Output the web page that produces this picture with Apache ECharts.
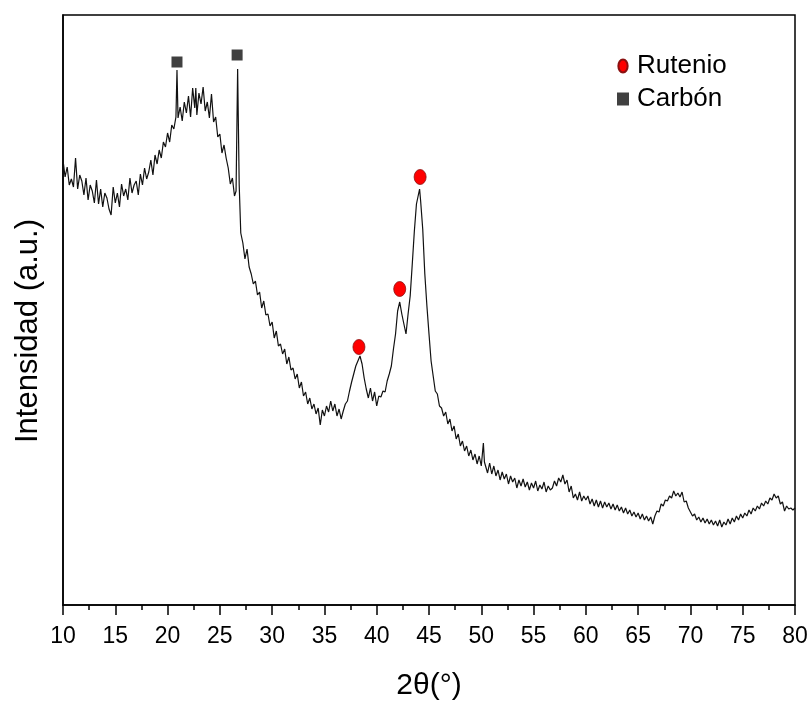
<!DOCTYPE html>
<html>
<head>
<meta charset="utf-8">
<script src="https://cdn.jsdelivr.net/npm/echarts@6/dist/echarts.min.js"></script>
<style>
html,body{margin:0;padding:0;background:#fff;}
#chart{width:812px;height:702px;}
</style>
</head>
<body>
<div id="chart"></div>
<script>
// 2-theta (deg) and intensity (a.u.)
const angles = [
10.0,10.2,10.4,10.6,10.8,11.0,11.2,11.4,11.6,11.8,12.0,12.2,12.4,12.6,12.8,13.0,13.2,13.4,13.6,13.8,
14.0,14.2,14.4,14.6,14.8,15.0,15.2,15.4,15.6,15.8,16.0,16.2,16.4,16.6,16.8,17.0,17.2,17.4,17.6,17.8,
18.0,18.2,18.4,18.6,18.8,19.0,19.2,19.4,19.6,19.8,20.0,20.2,20.4,20.6,20.8,20.9,21.0,21.2,21.4,21.6,
21.8,22.0,22.2,22.4,22.6,22.7,22.8,23.0,23.2,23.4,23.6,23.8,24.0,24.2,24.4,24.6,24.8,25.0,25.2,25.4,
25.6,25.8,26.0,26.2,26.4,26.55,26.7,26.85,27.0,27.2,27.4,27.6,27.8,28.0,28.2,28.4,28.6,28.8,29.0,29.2,
29.4,29.6,29.8,30.0,30.2,30.4,30.6,30.8,31.0,31.2,31.4,31.6,31.8,32.0,32.2,32.4,32.6,32.8,33.0,33.2,
33.4,33.6,33.8,34.0,34.2,34.4,34.6,34.8,35.0,35.2,35.4,35.6,35.8,36.0,36.2,36.4,36.6,36.8,37.0,37.2,
37.4,37.6,37.8,38.0,38.2,38.4,38.5,38.6,38.8,39.0,39.2,39.4,39.6,39.8,40.0,40.2,40.4,40.6,40.8,41.0,
41.2,41.4,41.6,41.8,42.0,42.2,42.4,42.6,42.8,43.0,43.2,43.4,43.6,43.8,44.0,44.1,44.2,44.4,44.6,44.8,
45.0,45.2,45.4,45.6,45.8,46.0,46.2,46.4,46.6,46.8,47.0,47.2,47.4,47.6,47.8,48.0,48.2,48.4,48.6,48.8,
49.0,49.2,49.4,49.6,49.8,50.0,50.2,50.3,50.6,50.8,51.0,51.2,51.4,51.6,51.8,52.0,52.2,52.4,52.6,52.8,
53.0,53.2,53.4,53.6,53.8,54.0,54.2,54.4,54.6,54.8,55.0,55.2,55.4,55.6,55.8,56.0,56.2,56.4,56.6,56.8,
57.0,57.2,57.4,57.6,57.8,58.0,58.2,58.4,58.6,58.8,59.0,59.2,59.4,59.6,59.8,60.0,60.2,60.4,60.6,60.8,
61.0,61.2,61.4,61.6,61.8,62.0,62.2,62.4,62.6,62.8,63.0,63.2,63.4,63.6,63.8,64.0,64.2,64.4,64.6,64.8,
65.0,65.2,65.4,65.6,65.8,66.0,66.2,66.4,66.6,66.8,67.0,67.2,67.4,67.6,67.8,68.0,68.2,68.4,68.6,68.8,
69.0,69.2,69.4,69.6,69.8,70.0,70.2,70.4,70.6,70.8,71.0,71.2,71.4,71.6,71.8,72.0,72.2,72.4,72.6,72.8,
73.0,73.2,73.4,73.6,73.8,74.0,74.2,74.4,74.6,74.8,75.0,75.2,75.4,75.6,75.8,76.0,76.2,76.4,76.6,76.8,
77.0,77.2,77.4,77.6,77.8,78.0,78.2,78.4,78.6,78.8,79.0,79.2,79.4,79.6,79.8,80.0
];
const intensity = [
445,428,438,420,426,418,447,416,430,424,410,427,405,420,414,402,425,401,416,398,
412,407,396,390,418,402,412,398,421,409,416,405,427,412,420,424,410,431,420,437,
426,433,445,430,450,441,455,447,463,458,472,463,480,476,488,535,487,498,484,503,
492,509,488,517,497,517,490,512,501,518,494,503,487,511,483,488,468,471,452,460,
447,437,421,427,409,414,536,420,372,362,346,356,338,331,321,324,310,313,297,304,
290,291,279,283,267,274,259,261,251,256,241,248,235,237,226,231,217,223,209,213,
201,207,196,201,191,197,180,195,189,199,193,204,194,201,189,196,186,194,201,204,
214,223,231,239,244,249,250,241,227,216,207,217,204,213,199,209,208,214,213,224,
231,239,256,271,294,303,291,281,271,291,309,341,374,401,411,416,404,376,331,299,
271,244,229,214,211,199,197,189,193,181,186,174,179,166,171,159,164,154,159,149,
155,145,151,141,149,139,162,143,132,142,131,139,129,135,125,133,126,131,121,129,
123,127,117,125,119,126,118,123,115,122,117,124,114,120,116,123,113,119,115,117,
124,119,127,123,130,121,125,113,119,107,111,105,113,104,109,105,109,101,106,99,
105,98,104,97,103,98,102,96,101,95,100,94,98,92,97,91,95,89,93,88,
92,86,91,85,89,84,88,81,89,94,93,101,99,105,104,109,107,114,109,112,
108,113,103,104,97,93,89,91,85,88,83,87,82,86,81,85,80,84,79,85,
78,83,80,86,81,87,83,89,85,91,87,92,89,95,91,97,94,99,96,102,
99,104,101,107,105,111,107,109,101,103,94,99,96,97,95,97
];
// peak markers
const rutenioAngles = [38.3, 42.2, 44.15];
const rutenioLevels = [258, 316, 428];
const carbonAngles = [20.9, 26.65];
const carbonLevels = [543, 550];
// axis
const xTicks = [10,15,20,25,30,35,40,45,50,55,60,65,70,75,80];

const zip = (a, b) => a.map((v, i) => [v, b[i]]);
const font = '"Liberation Sans", Arial, sans-serif';

const chart = echarts.init(document.getElementById('chart'), null, {renderer: 'canvas'});
chart.setOption({
  animation: false,
  backgroundColor: '#fff',
  grid: {left: 63, right: 17, top: 15, bottom: 97, show: true, borderColor: '#000', borderWidth: 1.5,
         backgroundColor: 'transparent', containLabel: false, outerBoundsMode: 'none'},
  legend: {
    orient: 'vertical', left: 612, top: 48, itemGap: 7,
    itemWidth: 12, itemHeight: 13,
    textStyle: {fontFamily: font, fontSize: 26, color: '#000', lineHeight: 26, padding: [0,0,0,3]},
    data: [
      {name: 'Rutenio', icon: 'path://M5,0A5,7,0,1,1,4.99,0Z'},
      {name: 'Carbón', icon: 'rect'}
    ]
  },
  graphic: [{
    type: 'text', x: 28, y: 331, rotation: Math.PI / 2,
    style: {text: 'Intensidad (a.u.)', fontFamily: font, fontSize: 31, fill: '#000', align: 'center', verticalAlign: 'middle'}
  }],
  xAxis: {
    type: 'value', min: xTicks[0], max: xTicks[xTicks.length-1], interval: 5,
    name: '2θ(°)', nameLocation: 'middle', nameGap: 66,
    nameTextStyle: {fontFamily: font, fontSize: 30, color: '#000'},
    axisLine: {show: true, lineStyle: {color: '#000', width: 1.5}},
    axisTick: {show: true, inside: false, length: 10, lineStyle: {color: '#000', width: 1.5}},
    minorTick: {show: true, splitNumber: 2, length: 5, lineStyle: {color: '#000', width: 1.5}},
    axisLabel: {fontFamily: font, fontSize: 23, color: '#000', margin: 20},
    splitLine: {show: false}
  },
  yAxis: {
    type: 'value', min: 0, max: 590,
    axisLine: {show: true, lineStyle: {color: '#000', width: 1.5}},
    axisTick: {show: false}, axisLabel: {show: false}, splitLine: {show: false}
  },
  series: [
    {
      name: 'pattern', type: 'line', data: zip(angles, intensity),
      showSymbol: false, symbol: 'none', sampling: null,
      lineStyle: {color: '#111', width: 1.2}, z: 2
    },
    {
      name: 'Rutenio', type: 'scatter', data: zip(rutenioAngles, rutenioLevels),
      symbol: 'circle', symbolSize: [12, 15],
      itemStyle: {color: '#ff0000', opacity: 1, borderColor: '#8a1010', borderWidth: 0.8}, z: 3
    },
    {
      name: 'Carbón', type: 'scatter', data: zip(carbonAngles, carbonLevels),
      symbol: 'rect', symbolSize: [11, 11],
      itemStyle: {color: '#404040', opacity: 1}, z: 3
    }
  ]
});
</script>
</body>
</html>
